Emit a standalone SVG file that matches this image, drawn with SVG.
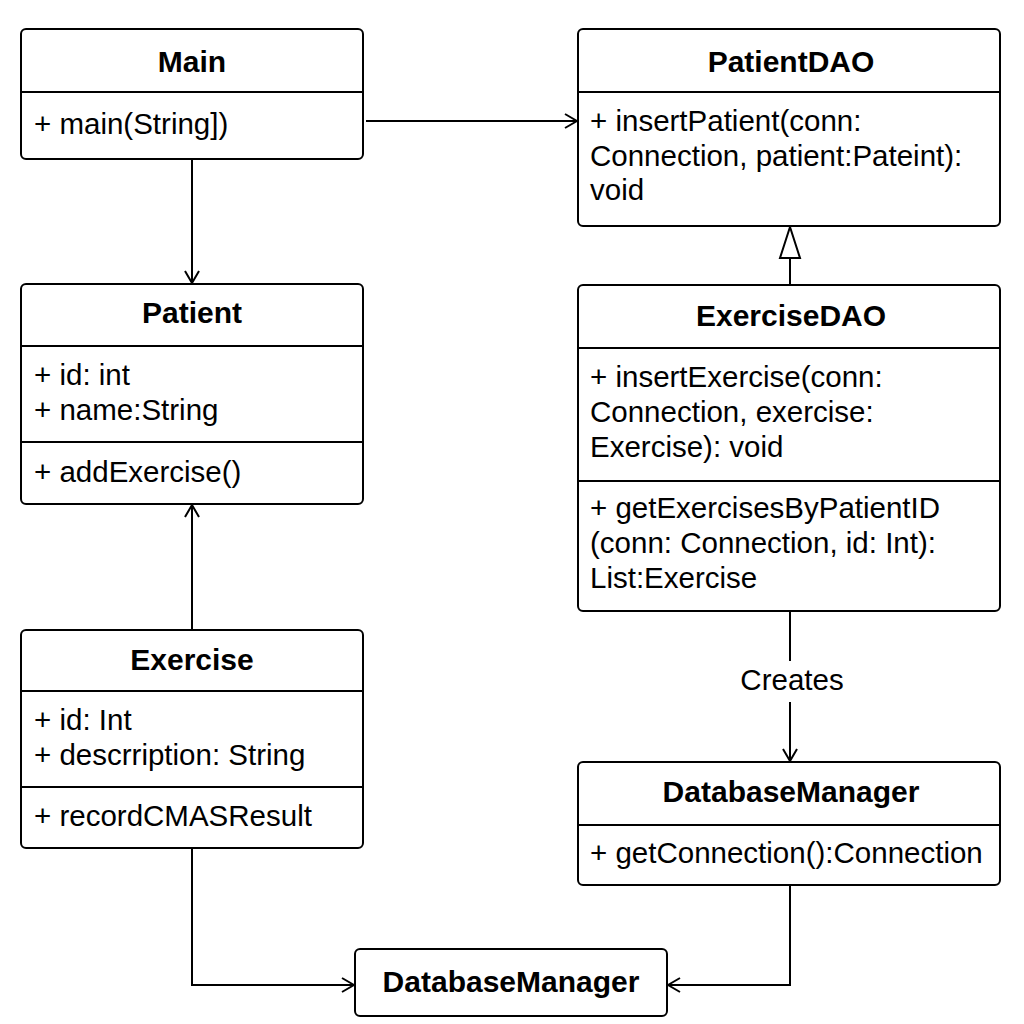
<svg xmlns="http://www.w3.org/2000/svg" width="1024" height="1024" viewBox="0 0 1024 1024">
<defs>
<style>
.box{fill:#fff;stroke:#000;stroke-width:2}
.div{stroke:#000;stroke-width:2}
.title{font-family:"Liberation Sans",Arial,sans-serif;font-weight:bold;font-size:30px;text-anchor:middle;fill:#000}
.txt{font-family:"Liberation Sans",Arial,sans-serif;font-size:29.5px;fill:#000}
.conn{fill:none;stroke:#000;stroke-width:2}
</style>
<marker id="open" markerWidth="14" markerHeight="16" refX="13" refY="8" orient="auto" markerUnits="userSpaceOnUse">
<path d="M1,1 L13,8 L1,15" fill="none" stroke="#000" stroke-width="2"/>
</marker>
</defs>

<g id="connectors">
<line class="conn" x1="366" y1="121" x2="577" y2="121" marker-end="url(#open)"/>
<line class="conn" x1="192" y1="160" x2="192" y2="283" marker-end="url(#open)"/>
<line class="conn" x1="192" y1="630" x2="192" y2="505" marker-end="url(#open)"/>
<line class="conn" x1="790" y1="285" x2="790" y2="258"/>
<path d="M780,258 L800,258 L790,227 Z" fill="#fff" stroke="#000" stroke-width="2"/>
<line class="conn" x1="790" y1="612" x2="790" y2="661"/>
<line class="conn" x1="790" y1="702" x2="790" y2="761" marker-end="url(#open)"/>
<text class="txt" x="792" y="690" text-anchor="middle">Creates</text>
<polyline class="conn" points="192,849 192,985 354,985" marker-end="url(#open)"/>
<polyline class="conn" points="790,886 790,985 668,985" marker-end="url(#open)"/>
</g>

<g id="Main">
<rect class="box" x="21" y="29" width="342" height="130" rx="5"/>
<line class="div" x1="21" y1="92" x2="363" y2="92"/>
<text class="title" x="192" y="72">Main</text>
<text class="txt" x="34" y="134">+ main(String])</text>
</g>

<g id="PatientDAO">
<rect class="box" x="578" y="29" width="422" height="197" rx="5"/>
<line class="div" x1="578" y1="92" x2="1000" y2="92"/>
<text class="title" x="791" y="72">PatientDAO</text>
<text class="txt" x="590" y="131">+ insertPatient(conn:</text>
<text class="txt" x="590" y="166">Connection, patient:Pateint):</text>
<text class="txt" x="590" y="200">void</text>
</g>

<g id="Patient">
<rect class="box" x="21" y="284" width="342" height="220" rx="5"/>
<line class="div" x1="21" y1="346" x2="363" y2="346"/>
<line class="div" x1="21" y1="442" x2="363" y2="442"/>
<text class="title" x="192" y="323">Patient</text>
<text class="txt" x="34" y="385">+ id: int</text>
<text class="txt" x="34" y="420">+ name:String</text>
<text class="txt" x="34" y="482">+ addExercise()</text>
</g>

<g id="ExerciseDAO">
<rect class="box" x="578" y="285" width="422" height="326" rx="5"/>
<line class="div" x1="578" y1="348" x2="1000" y2="348"/>
<line class="div" x1="578" y1="481" x2="1000" y2="481"/>
<text class="title" x="791" y="326">ExerciseDAO</text>
<text class="txt" x="590" y="387">+ insertExercise(conn:</text>
<text class="txt" x="590" y="422">Connection, exercise:</text>
<text class="txt" x="590" y="457">Exercise): void</text>
<text class="txt" x="590" y="518">+ getExercisesByPatientID</text>
<text class="txt" x="590" y="553">(conn: Connection, id: Int):</text>
<text class="txt" x="590" y="588">List:Exercise</text>
</g>

<g id="Exercise">
<rect class="box" x="21" y="630" width="342" height="218" rx="5"/>
<line class="div" x1="21" y1="691" x2="363" y2="691"/>
<line class="div" x1="21" y1="787" x2="363" y2="787"/>
<text class="title" x="192" y="670">Exercise</text>
<text class="txt" x="34" y="730">+ id: Int</text>
<text class="txt" x="34" y="765">+ descrription: String</text>
<text class="txt" x="34" y="826">+ recordCMASResult</text>
</g>

<g id="DatabaseManagerRight">
<rect class="box" x="578" y="762" width="422" height="123" rx="5"/>
<line class="div" x1="578" y1="825" x2="1000" y2="825"/>
<text class="title" x="791" y="802">DatabaseManager</text>
<text class="txt" x="590" y="863">+ getConnection():Connection</text>
</g>

<g id="DatabaseManagerBottom">
<rect class="box" x="355" y="949" width="312" height="67" rx="5"/>
<text class="title" x="511" y="992">DatabaseManager</text>
</g>
</svg>
